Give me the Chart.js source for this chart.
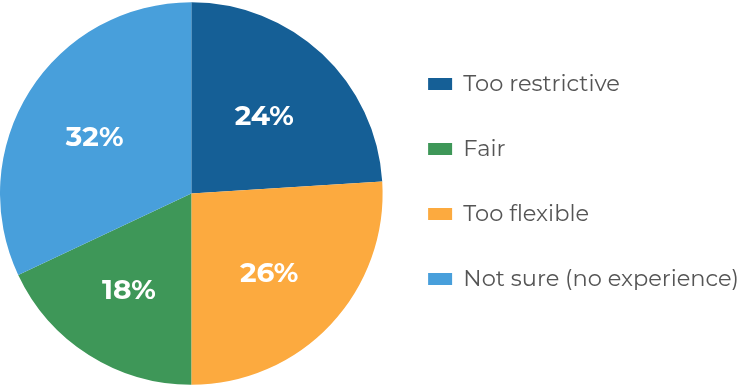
<!DOCTYPE html>
<html>
<head>
<meta charset="utf-8">
<script src="https://cdn.jsdelivr.net/npm/chart.js@4/dist/chart.umd.min.js"></script>
<style>
  body { margin: 0; background: #fff; }
  #wrap { width: 746px; height: 387px; }
</style>
</head>
<body>
<div id="wrap"><canvas id="pie-chart" width="746" height="387"></canvas></div>
<script>
// slice order (clockwise from 12 o'clock)
var labels = ["Too restrictive", "Too flexible", "Fair", "Not sure (no experience)"];
var values = [24, 26, 18, 32];
var colors = ["#155f96", "#fcaa3f", "#3e9758", "#489fdb"];
// legend lists Fair before Too flexible
var legendOrder = [0, 2, 1, 3];

var fontFamily = "Montserrat, Inter, 'Open Sans', sans-serif";

// white percentage labels inside slices
var sliceLabels = {
  id: "sliceLabels",
  afterDatasetsDraw: function (chart) {
    var ctx = chart.ctx;
    var meta = chart.getDatasetMeta(0);
    ctx.save();
    ctx.fillStyle = "#fff";
    ctx.font = "bold 28px " + fontFamily;
    ctx.textAlign = "center";
    ctx.textBaseline = "middle";
    meta.data.forEach(function (arc, i) {
      var p = arc.getProps(["x", "y", "startAngle", "endAngle", "outerRadius"], true);
      var mid = (p.startAngle + p.endAngle) / 2;
      var r = p.outerRadius * 0.58;
      // labels sit slightly low/left of the true centre in the original
      ctx.fillText(values[i] + "%", p.x - 3 + Math.cos(mid) * r, p.y + 4 + Math.sin(mid) * r);
    });
    ctx.restore();
  },
};

// nudge the legend up and a touch right
var legendShift = {
  id: "legendShift",
  afterLayout: function (chart) {
    chart.legend.top -= 12;
    chart.legend.bottom -= 12;
    chart.legend.left += 3;
    chart.legend.right += 3;
  },
};

const ctx = document.getElementById("pie-chart").getContext("2d");

new Chart(ctx, {
  type: "pie",
  data: {
    labels: labels,
    datasets: [
      {
        data: values,
        backgroundColor: colors,
        borderWidth: 0,
      },
    ],
  },
  options: {
    responsive: false,
    animation: false,
    layout: { padding: 0 },
    plugins: {
      tooltip: { enabled: false },
      legend: {
        position: "right",
        align: "center",
        labels: {
          boxWidth: 24,
          boxHeight: 12,
          padding: 42.5,
          color: "#555",
          font: { family: fontFamily, size: 22.5 },
          sort: function (a, b) {
            return legendOrder.indexOf(a.index) - legendOrder.indexOf(b.index);
          },
        },
      },
    },
  },
  plugins: [sliceLabels, legendShift],
});
</script>
</body>
</html>
